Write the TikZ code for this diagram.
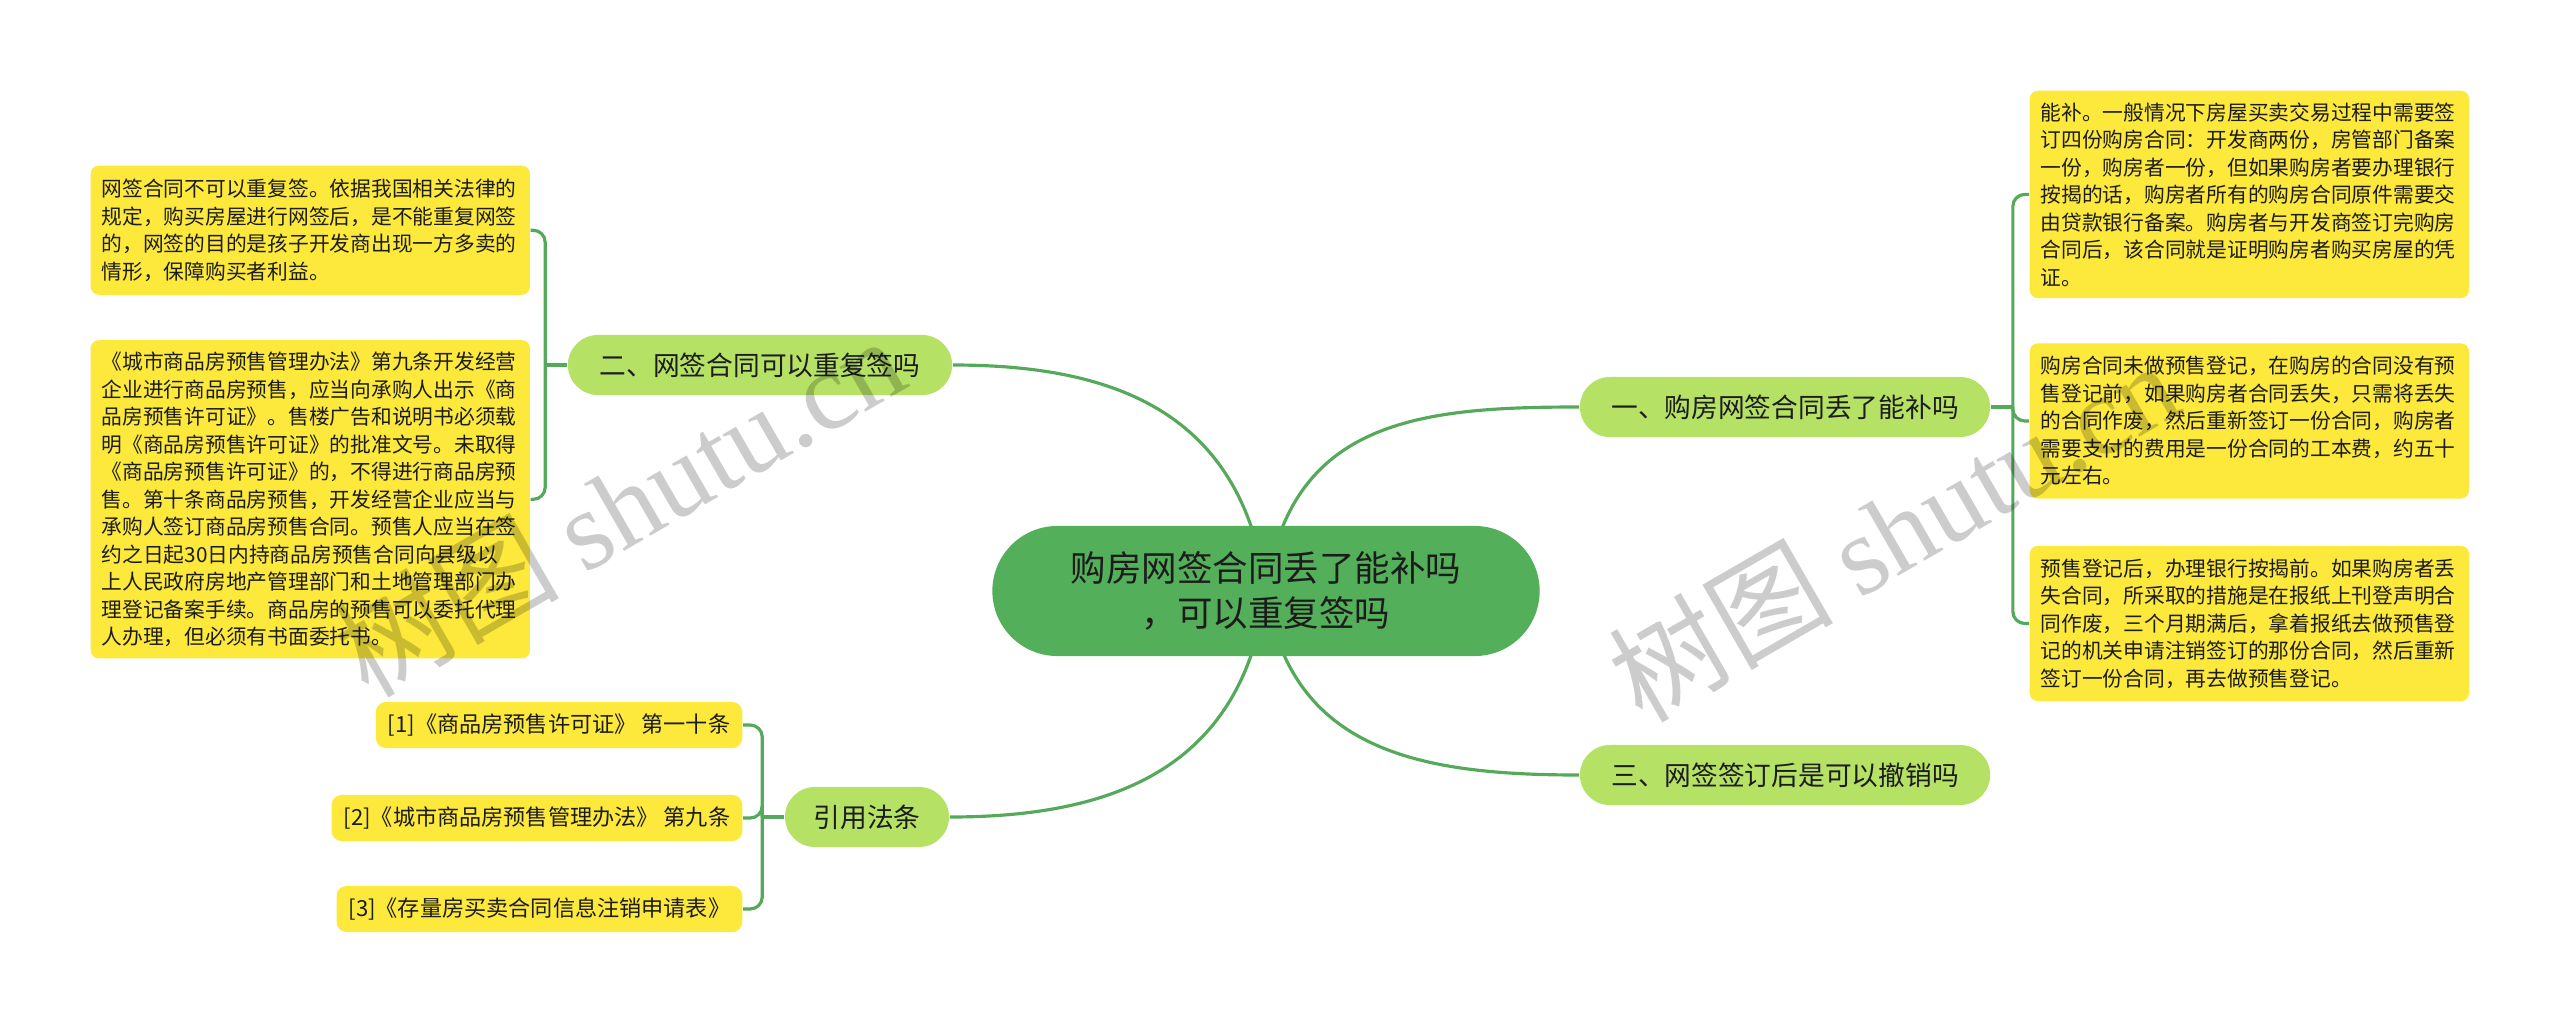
\documentclass[tikz,border=0pt]{standalone}
\usepackage{fontspec}
\setmainfont{Noto Sans CJK SC}
\newfontfamily\wmlatin{Liberation Serif}
\usetikzlibrary{positioning, calc, backgrounds}

\definecolor{rootgreen}{HTML}{54AF5A}
\definecolor{branchgreen}{HTML}{B5E165}
\definecolor{leafyellow}{HTML}{FDE93B}
\definecolor{linkgreen}{HTML}{55A95B}
\definecolor{inkgray}{HTML}{1C1C1C}

\begin{document}
\begin{tikzpicture}[
    x=0.01cm, y=0.01cm,
    root/.style={fill=rootgreen, rounded corners=0.65cm, minimum width=5.47cm, minimum height=1.30cm, align=center, text=inkgray, font=\fontsize{10.1pt}{13pt}\selectfont},
    branch/.style={fill=branchgreen, rounded corners=0.30cm, minimum height=0.60cm, inner xsep=0.28cm, text=inkgray, font=\fontsize{7.6pt}{9pt}\selectfont},
    leaf/.style={fill=leafyellow, rounded corners=0.08cm, text width=4.17cm, align=left, inner xsep=0.11cm, text=inkgray, font=\fontsize{5.9pt}{7.82pt}\selectfont},
    cite/.style={fill=leafyellow, rounded corners=0.10cm, minimum height=0.46cm, inner xsep=0.12cm, text=inkgray, font=\fontsize{6.3pt}{7.5pt}\selectfont},
    link/.style={draw=linkgreen, line width=0.9pt},
    watermark/.style={rotate=30, text=black, text opacity=0.2, font=\fontsize{32pt}{32pt}\selectfont}
]
\useasboundingbox (0,0) rectangle (2560,-1024);

% Root and main branches
\node[root] (root) at (1266,-591) {购房网签合同丢了能补吗\\，可以重复签吗};
\node[branch, minimum width=4.10cm] (b1) at (1785,-407) {一、购房网签合同丢了能补吗};
\node[branch, minimum width=3.84cm] (b2) at (760,-365) {二、网签合同可以重复签吗};
\node[branch, minimum width=4.10cm] (b3) at (1785,-775) {三、网签签订后是可以撤销吗};
\node[branch, minimum width=1.64cm] (b4) at (867,-817) {引用法条};

% Right leaves (branch 1)
\node[leaf, anchor=north west, minimum height=2.07cm] (r1) at (2029,-90) {能补。一般情况下房屋买卖交易过程中需要签\\订四份购房合同：开发商两份，房管部门备案\\一份，购房者一份，但如果购房者要办理银行\\按揭的话，购房者所有的购房合同原件需要交\\由贷款银行备案。购房者与开发商签订完购房\\合同后，该合同就是证明购房者购买房屋的凭\\证。};
\node[leaf, below=0.44cm of r1, minimum height=1.55cm] (r2) {购房合同未做预售登记，在购房的合同没有预\\售登记前，如果购房者合同丢失，只需将丢失\\的合同作废，然后重新签订一份合同，购房者\\需要支付的费用是一份合同的工本费，约五十\\元左右。};
\node[leaf, below=0.46cm of r2, minimum height=1.55cm] (r3) {预售登记后，办理银行按揭前。如果购房者丢\\失合同，所采取的措施是在报纸上刊登声明合\\同作废，三个月期满后，拿着报纸去做预售登\\记的机关申请注销签订的那份合同，然后重新\\签订一份合同，再去做预售登记。};

% Left leaves (branch 2)
\node[leaf, anchor=north west, minimum height=1.29cm] (l1) at (90,-165) {网签合同不可以重复签。依据我国相关法律的\\规定，购买房屋进行网签后，是不能重复网签\\的，网签的目的是孩子开发商出现一方多卖的\\情形，保障购买者利益。};
\node[leaf, below=0.44cm of l1, minimum height=3.18cm] (l2) {《城市商品房预售管理办法》第九条开发经营\\企业进行商品房预售，应当向承购人出示《商\\品房预售许可证》。售楼广告和说明书必须载\\明《商品房预售许可证》的批准文号。未取得\\《商品房预售许可证》的，不得进行商品房预\\售。第十条商品房预售，开发经营企业应当与\\承购人签订商品房预售合同。预售人应当在签\\约之日起30日内持商品房预售合同向县级以\\上人民政府房地产管理部门和土地管理部门办\\理登记备案手续。商品房的预售可以委托代理\\人办理，但必须有书面委托书。};

% Cited articles (branch 4)
\node[cite, anchor=east, minimum width=3.45cm] (c1) at (743,-725) {[1]《商品房预售许可证》 第一十条};
\node[cite, anchor=east, minimum width=3.87cm] (c2) at (743,-818) {[2]《城市商品房预售管理办法》 第九条};
\node[cite, anchor=east, minimum width=3.82cm] (c3) at (743,-909) {[3]《存量房买卖合同信息注销申请表》};

% Connectors behind the boxes
\begin{scope}[on background layer]
\fill[white] (0,0) rectangle (2560,-1024);
\draw[link] (root.center) .. controls ($(root.center)+(24,171)$) and ($(b1.west)+(-160,0)$) .. (b1.west);
\draw[link] (root.center) .. controls ($(root.center)+(-24,180)$) and ($(b2.east)+(160,0)$) .. (b2.east);
\draw[link] (root.center) .. controls ($(root.center)+(24,-160)$) and ($(b3.west)+(-160,0)$) .. (b3.west);
\draw[link] (root.center) .. controls ($(root.center)+(-24,-180)$) and ($(b4.east)+(160,0)$) .. (b4.east);

\draw[link] (b1.east) -- ++(22,0) coordinate (j1);
\foreach \leafname in {r1,r2,r3}
    \draw[link, rounded corners=0.12cm] (j1) |- (\leafname.west);
\draw[link] (b2.west) -- ++(-22,0) coordinate (j2);
\foreach \leafname in {l1,l2}
    \draw[link, rounded corners=0.12cm] (j2) |- (\leafname.east);
\draw[link] (b4.west) -- ++(-22,0) coordinate (j4);
\foreach \leafname in {c1,c2,c3}
    \draw[link, rounded corners=0.12cm] (j4) |- (\leafname.east);
\end{scope}

% Watermarks
\node[watermark] (wm1) at (619,-505) {树图 {\wmlatin shutu.cn}};
\node[watermark] (wm2) at (1893,-530) {树图 {\wmlatin shutu.cn}};

\end{tikzpicture}
\end{document}
